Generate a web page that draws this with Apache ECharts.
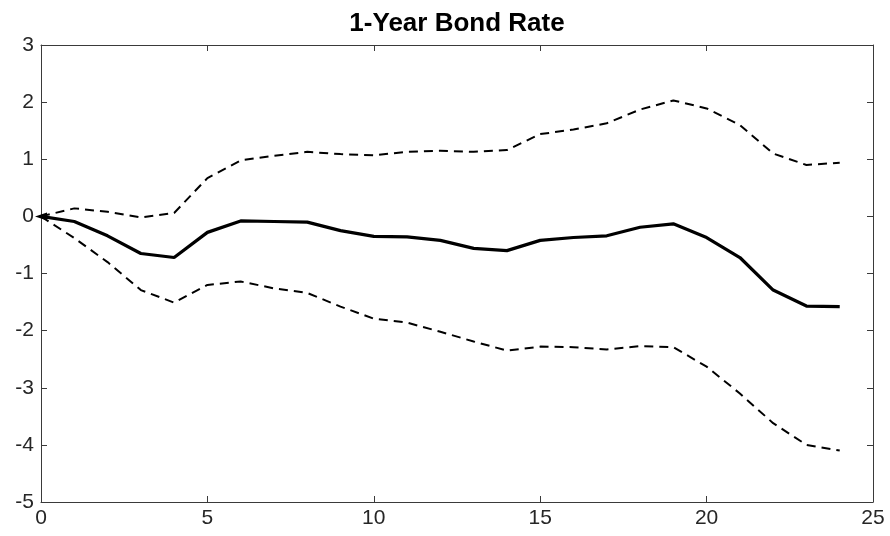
<!DOCTYPE html>
<html>
<head>
<meta charset="utf-8">
<script src="https://cdn.jsdelivr.net/npm/echarts@6/dist/echarts.min.js"></script>
<style>
  html, body { margin: 0; padding: 0; background: #fff; }
  #chart { width: 890px; height: 536px; }
</style>
</head>
<body>
<div id="chart"></div>
<script>
// Impulse response of the 1-year bond rate with its confidence band
const horizons = [0, 1, 2, 3, 4, 5, 6, 7, 8, 9, 10, 11, 12, 13, 14, 15, 16, 17, 18, 19, 20, 21, 22, 23, 24];
const response = [0, -0.09, -0.34, -0.65, -0.72, -0.28, -0.08, -0.09, -0.10, -0.25, -0.35, -0.36, -0.42,
  -0.56, -0.60, -0.42, -0.37, -0.34, -0.19, -0.13, -0.37, -0.72, -1.29, -1.57, -1.58];
const upperBand = [0, 0.14, 0.08, -0.02, 0.06, 0.67, 0.98, 1.06, 1.13, 1.09, 1.07, 1.13, 1.15,
  1.13, 1.16, 1.44, 1.52, 1.63, 1.87, 2.03, 1.89, 1.60, 1.10, 0.90, 0.94];
const lowerBand = [0, -0.38, -0.80, -1.29, -1.51, -1.20, -1.14, -1.26, -1.34, -1.58, -1.79, -1.86, -2.02,
  -2.19, -2.35, -2.28, -2.29, -2.33, -2.27, -2.29, -2.63, -3.10, -3.62, -4.00, -4.10];
const xTicks = [0, 5, 10, 15, 20, 25];
const yTicks = [-5, -4, -3, -2, -1, 0, 1, 2, 3];

const axisColor = '#3a3a3a';
const labelColor = '#262626';
const font = 'Liberation Sans, Arial, Helvetica, sans-serif';

const pairs = (ys) => horizons.map((h, i) => [h, ys[i]]);

const baseX = {
  type: 'value', min: xTicks[0], max: xTicks[xTicks.length - 1], interval: 5,
  axisLine: { show: true, onZero: false, lineStyle: { color: axisColor, width: 1 } },
  axisTick: { show: true, inside: true, length: 6, lineStyle: { color: axisColor } },
  splitLine: { show: false }
};
const baseY = {
  type: 'value', min: yTicks[0], max: yTicks[yTicks.length - 1], interval: 1,
  axisLine: { show: true, onZero: false, lineStyle: { color: axisColor, width: 1 } },
  axisTick: { show: true, inside: true, length: 6, lineStyle: { color: axisColor } },
  splitLine: { show: false }
};

const chart = echarts.init(document.getElementById('chart'), null, { renderer: 'canvas' });
chart.setOption({
  animation: false,
  backgroundColor: '#ffffff',
  title: {
    text: '1-Year Bond Rate',
    left: 452, top: 6, textAlign: 'center',
    textStyle: { fontFamily: font, fontWeight: 'bold', fontSize: 26, color: '#000' }
  },
  grid: { left: 41, right: 17, top: 45, bottom: 34, containLabel: false },
  xAxis: [
    Object.assign({}, baseX, {
      position: 'bottom',
      axisLabel: { show: true, color: labelColor, fontFamily: font, fontSize: 21, margin: 6 }
    }),
    Object.assign({}, baseX, { position: 'top', axisLabel: { show: false } })
  ],
  yAxis: [
    Object.assign({}, baseY, {
      position: 'left',
      axisLabel: { show: true, color: labelColor, fontFamily: font, fontSize: 21, margin: 7 }
    }),
    Object.assign({}, baseY, { position: 'right', axisLabel: { show: false } })
  ],
  series: [
    {
      name: 'upper', type: 'line', data: pairs(upperBand), symbol: 'none',
      lineStyle: { color: '#000', width: 2, type: [9, 6] }
    },
    {
      name: 'lower', type: 'line', data: pairs(lowerBand), symbol: 'none',
      lineStyle: { color: '#000', width: 2, type: [9, 6] }
    },
    {
      name: 'response', type: 'line', symbol: 'none', showSymbol: true,
      data: pairs(response).map((p, i) => i === 0
        ? { value: p, symbol: 'triangle', symbolSize: [8, 12], symbolRotate: 90, itemStyle: { color: '#000' } }
        : { value: p }),
      lineStyle: { color: '#000', width: 3.2 }
    }
  ]
});
</script>
</body>
</html>
